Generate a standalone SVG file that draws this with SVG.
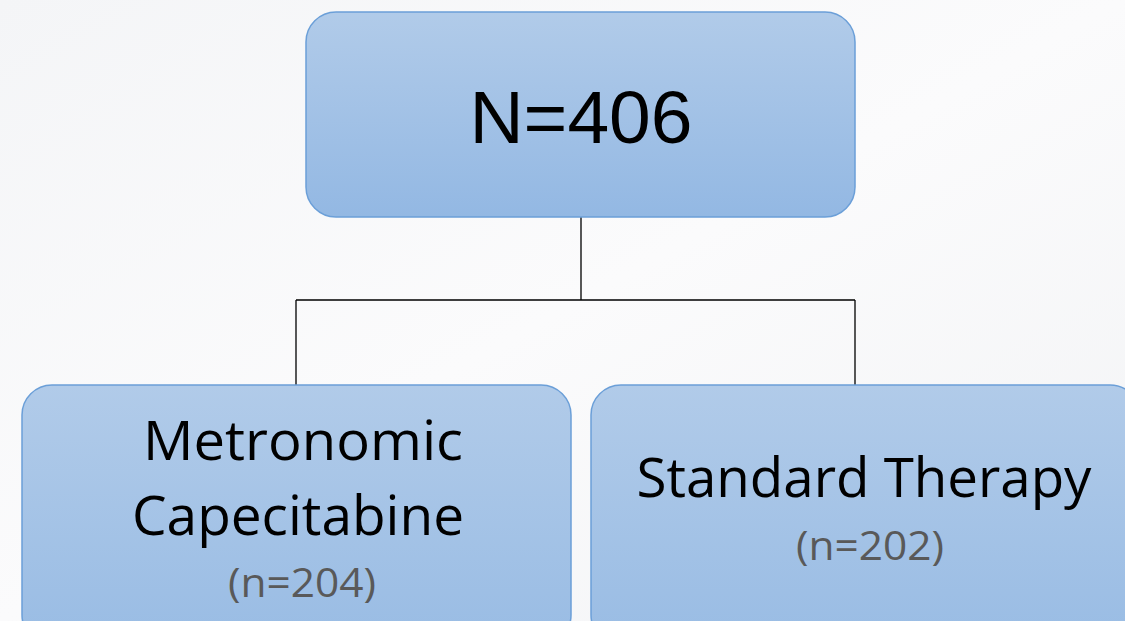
<svg xmlns="http://www.w3.org/2000/svg" width="1125" height="621" viewBox="0 0 1125 621">
<defs>
<linearGradient id="boxg" x1="0" y1="0" x2="0" y2="1">
<stop offset="0" stop-color="#b1cbe9"/>
<stop offset="1" stop-color="#93b8e3"/>
</linearGradient>
<linearGradient id="boxg2" x1="0" y1="0" x2="0" y2="1">
<stop offset="0" stop-color="#b1cbe9"/>
<stop offset="1" stop-color="#99bce4"/>
</linearGradient>
<linearGradient id="bg" x1="0" y1="0" x2="1" y2="1">
<stop offset="0" stop-color="#f4f5f7"/>
<stop offset="0.5" stop-color="#fbfbfc"/>
<stop offset="1" stop-color="#f2f3f5"/>
</linearGradient>
</defs>
<style>
.box{stroke:#6b9fd8;stroke-width:1.5}
.conn{stroke:#000;stroke-width:1.3;fill:none}
.main{font-family:"Open Sans","Liberation Sans",sans-serif;fill:#000;text-anchor:middle}
.sub{font-family:"Open Sans","Liberation Sans",sans-serif;fill:#595959;text-anchor:middle}
</style>
<rect x="0" y="0" width="1125" height="621" fill="url(#bg)"/>
<g id="connectors">
<path class="conn" d="M581,217 V300 M296,300 H855 M296,300 V385 M855,300 V385"/>
</g>
<g id="node-total">
<rect class="box" x="306" y="12" width="549" height="205" rx="30" fill="url(#boxg)"/>
<text x="581" y="143" font-family="Liberation Sans, Arial, sans-serif" font-size="75" text-anchor="middle" fill="#000">N=406</text>
</g>
<g id="node-metronomic">
<rect class="box" x="22" y="385" width="549" height="260" rx="30" fill="url(#boxg2)"/>
<text class="main" x="303" y="460" font-size="55" textLength="320" lengthAdjust="spacingAndGlyphs">Metronomic</text>
<text class="main" x="298" y="535" font-size="55" textLength="332" lengthAdjust="spacingAndGlyphs">Capecitabine</text>
<text class="sub" x="302" y="597" font-size="40" textLength="148" lengthAdjust="spacingAndGlyphs">(n=204)</text>
</g>
<g id="node-standard">
<rect class="box" x="591" y="385" width="549" height="260" rx="30" fill="url(#boxg2)"/>
<text class="main" x="864" y="497" font-size="55" textLength="455" lengthAdjust="spacingAndGlyphs">Standard Therapy</text>
<text class="sub" x="870" y="560" font-size="40" textLength="148" lengthAdjust="spacingAndGlyphs">(n=202)</text>
</g>
</svg>
